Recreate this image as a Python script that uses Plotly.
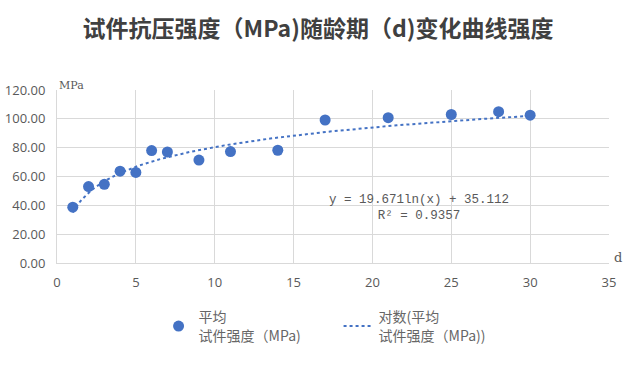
import numpy as np
import plotly.graph_objects as go

# Data
age_days = [1, 2, 3, 4, 5, 6, 7, 9, 11, 14, 17, 21, 25, 28, 30]
strength_mpa = [38.7, 53.0, 54.6, 63.7, 62.8, 78.0, 77.0, 71.4, 77.3, 78.2, 99.2, 100.8, 103.0, 105.0, 102.5]
trend_a = 19.671
trend_b = 35.112
r_squared = 0.9357
x_ticks = [0, 5, 10, 15, 20, 25, 30, 35]
y_ticks = [0, 20, 40, 60, 80, 100, 120]

x_fit = np.linspace(min(age_days), max(age_days), 200)
y_fit = trend_a * np.log(x_fit) + trend_b

cjk = "Noto Sans CJK SC"
blue = "#4472C4"
gray = "#595959"

fig = go.Figure()
fig.add_trace(go.Scatter(
    x=age_days, y=strength_mpa, mode="markers",
    marker=dict(color=blue, size=11),
    name="平均<br>试件强度（MPa)",
))
fig.add_trace(go.Scatter(
    x=x_fit, y=y_fit, mode="lines",
    line=dict(color=blue, width=2, dash="dot"),
    name="对数(平均<br>试件强度（MPa))",
))

fig.update_layout(
    width=636, height=372,
    margin=dict(l=57, r=27, t=90, b=109),
    paper_bgcolor="white", plot_bgcolor="white",
    title=dict(text="<b>试件抗压强度（MPa)随龄期（d)变化曲线强度</b>", x=0.5, xanchor="center",
               y=0.923, yanchor="middle",
               font=dict(family=cjk, size=23, color="#404040")),
    font=dict(family=cjk, size=12, color=gray),
    showlegend=True,
    legend=dict(orientation="h", x=0.184, xanchor="left", y=-0.222, yanchor="top",
                font=dict(family=cjk, size=14, color="#666666"),
                entrywidth=135, entrywidthmode="pixels", itemwidth=30, tracegroupgap=0),
    xaxis=dict(range=[0, 35], tickvals=x_ticks, showgrid=True, gridcolor="#D9D9D9",
               zeroline=False, showline=True, linecolor="#D9D9D9", automargin=False,
               ticklabelstandoff=7,
               tickfont=dict(family="Open Sans", size=13, color=gray)),
    yaxis=dict(range=[0, 120], tickvals=y_ticks, tickformat=".2f", showgrid=True,
               gridcolor="#D9D9D9", zeroline=False, showline=True, linecolor="#D9D9D9",
               automargin=False, ticklabelstandoff=8,
               tickfont=dict(family="Open Sans", size=13, color=gray)),
    annotations=[
        dict(text="MPa", xref="paper", yref="paper", x=0.0, y=1.0, xanchor="left",
             yanchor="bottom", yshift=-4, showarrow=False,
             font=dict(family="DejaVu Serif", size=11, color=gray)),
        dict(text="d", xref="paper", yref="paper", x=1.005, y=0.0, xanchor="left",
             yanchor="bottom", yshift=-4, showarrow=False,
             font=dict(family="DejaVu Serif", size=13, color=gray)),
        dict(text=f"y = {trend_a}ln(x) + {trend_b}<br>R² = {r_squared}", x=22.95, y=38.2,
             xref="x", yref="y", showarrow=False, align="center",
             font=dict(family="Liberation Mono", size=12.5, color=gray)),
    ],
)

fig.write_html("out.html", config={"displayModeBar": False},
               post_script="document.body.style.margin='0';")
